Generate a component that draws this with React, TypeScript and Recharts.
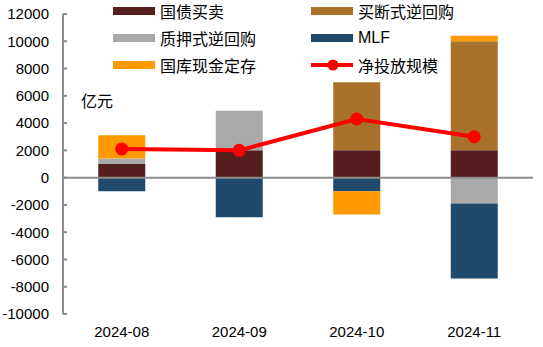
import React from "react";
import { ComposedChart, Bar, Line, XAxis, YAxis, ReferenceLine } from "recharts";

const months = ["2024-08", "2024-09", "2024-10", "2024-11"];
const treasuryTrade = [1000, 2000, 2000, 2000];
const outrightRepo = [0, 0, 5000, 8000];
const pledgedRepo = [400, 2900, 0, -1900];
const mlf = [-1000, -2900, -1000, -5500];
const treasuryDeposit = [1700, 0, -1700, 400];
const netInjection = [2100, 2000, 4300, 3000];
const yTicks = [-10000, -8000, -6000, -4000, -2000, 0, 2000, 4000, 6000, 8000, 10000, 12000];

const data = months.map((m, i) => ({
  name: m,
  treasuryTrade: treasuryTrade[i],
  outrightRepo: outrightRepo[i],
  pledgedRepo: pledgedRepo[i],
  mlf: mlf[i],
  treasuryDeposit: treasuryDeposit[i],
  net: netInjection[i],
}));

const font = "'Liberation Sans', 'Noto Sans CJK SC', sans-serif";

const legendItems = [
  { label: "国债买卖", color: "#561f1f", type: "bar" },
  { label: "买断式逆回购", color: "#a8722b", type: "bar" },
  { label: "质押式逆回购", color: "#a9a9a9", type: "bar" },
  { label: "MLF", color: "#1f4a6b", type: "bar" },
  { label: "国库现金定存", color: "#ff9900", type: "bar" },
  { label: "净投放规模", color: "#ff0000", type: "line" },
];

function ChartLegend() {
  return (
    <>
      {legendItems.map((item, i) => {
        const col = i % 2;
        const row = Math.floor(i / 2);
        const left = col === 0 ? 113 : 311;
        const top = 1 + row * 27;
        return (
          <div
            key={item.label}
            style={{ position: "absolute", left, top, display: "flex", alignItems: "center", height: 20 }}
          >
            {item.type === "bar" ? (
              <div style={{ width: 42, height: 8, background: item.color }} />
            ) : (
              <svg width={42} height={14}>
                <line x1={0} y1={7} x2={42} y2={7} stroke={item.color} strokeWidth={4} />
                <circle cx={22} cy={7} r={5.5} fill={item.color} />
              </svg>
            )}
            <span style={{ marginLeft: 5, fontSize: 16, fontFamily: font, color: "#000" }}>{item.label}</span>
          </div>
        );
      })}
    </>
  );
}

export default function App() {
  return (
    <div style={{ position: "absolute", left: 0, top: 0, width: 543, height: 347, background: "#fff" }}>
      <ComposedChart
        width={543}
        height={347}
        data={data}
        stackOffset="sign"
        barCategoryGap="30%"
        margin={{ top: 14, right: 10, bottom: 0, left: 0 }}
      >
        <XAxis
          dataKey="name"
          axisLine={false}
          tickLine={false}
          height={33}
          tick={{ fontSize: 15, fill: "#000", fontFamily: font }}
          tickMargin={6}
        />
        <YAxis
          domain={[-10000, 12000]}
          ticks={yTicks}
          interval={0}
          width={63}
          axisLine={{ stroke: "#8c8c8c", strokeWidth: 2 }}
          tickLine={{ stroke: "#8c8c8c", strokeWidth: 2 }}
          tickSize={-4}
          tickMargin={18}
          tick={{ fontSize: 15, fill: "#000", fontFamily: font }}
        />
        <Bar dataKey="treasuryTrade" stackId="a" fill="#561f1f" isAnimationActive={false} />
        <Bar dataKey="outrightRepo" stackId="a" fill="#a8722b" isAnimationActive={false} />
        <Bar dataKey="pledgedRepo" stackId="a" fill="#a9a9a9" isAnimationActive={false} />
        <Bar dataKey="mlf" stackId="a" fill="#1f4a6b" isAnimationActive={false} />
        <Bar dataKey="treasuryDeposit" stackId="a" fill="#ff9900" isAnimationActive={false} />
        <ReferenceLine y={0} stroke="#8c8c8c" strokeWidth={2} />
        <Line
          dataKey="net"
          stroke="#ff0000"
          strokeWidth={4}
          dot={{ r: 6.5, fill: "#ff0000", stroke: "none" }}
          isAnimationActive={false}
        />
      </ComposedChart>
      <ChartLegend />
      <div style={{ position: "absolute", left: 81, top: 88, fontSize: 16, fontFamily: font }}>亿元</div>
    </div>
  );
}
